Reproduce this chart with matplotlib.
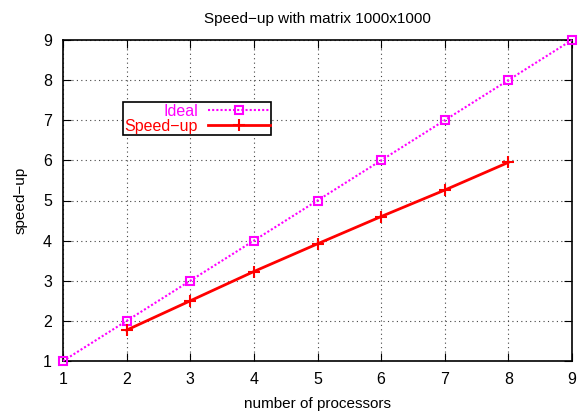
import matplotlib
matplotlib.use("Agg")
import matplotlib.pyplot as plt

procs = [1, 2, 3, 4, 5, 6, 7, 8, 9]
ideal = [1, 2, 3, 4, 5, 6, 7, 8, 9]
speed_procs = [2, 3, 4, 5, 6, 7, 8]
speedup = [1.77, 2.50, 3.23, 3.92, 4.60, 5.26, 5.95]

plt.rcParams['font.family'] = ['Liberation Sans', 'DejaVu Sans']

fig = plt.figure(figsize=(5.8, 4.18), dpi=100)
ax = fig.add_axes([63/580, 1-361/418, (572-63)/580, (361-40)/418])

ax.plot(procs, ideal, color="#ff00ff", linestyle=(0, (1, 1)), linewidth=1.5,
        marker="s", markersize=6, markerfacecolor="none", markeredgewidth=1.5,
        label="Ideal", clip_on=False, zorder=3)
ax.plot(speed_procs, speedup, color="#ff0000", linestyle="-", linewidth=2,
        marker="+", markersize=8, markeredgewidth=1.5,
        label="Speed\u2212up", clip_on=False, zorder=3)

ax.set_xlim(1, 9)
ax.set_ylim(1, 9)
ax.set_xticks(procs)
ax.set_yticks(range(1, 10))
ax.grid(True, color="#444444", linestyle=(0, (1, 3)), linewidth=0.8)
ax.tick_params(direction="in", top=True, right=True, length=6, labelsize=11.5)
ax.tick_params(axis="x", pad=8)
ax.tick_params(axis="y", pad=8)
for s in ax.spines.values():
    s.set_linewidth(1.2)

ax.set_xlabel("number of processors", fontsize=11, labelpad=7)
ax.set_ylabel("speed\u2212up", fontsize=11, labelpad=11)
ax.set_title("Speed\u2212up with matrix 1000x1000", fontsize=11, pad=12)

leg = ax.legend(loc="upper left", bbox_to_anchor=((123-63)/509, (361-102)/321),
                markerfirst=False, fancybox=False, framealpha=1,
                edgecolor="black", fontsize=11.5, borderpad=0.1,
                labelspacing=0.0, handlelength=3.9, handletextpad=0.6,
                borderaxespad=0)
leg.get_frame().set_linewidth(1.2)
for t, c in zip(leg.get_texts(), ["#ff00ff", "#ff0000"]):
    t.set_color(c)

fig.savefig("out.png", dpi=100)
